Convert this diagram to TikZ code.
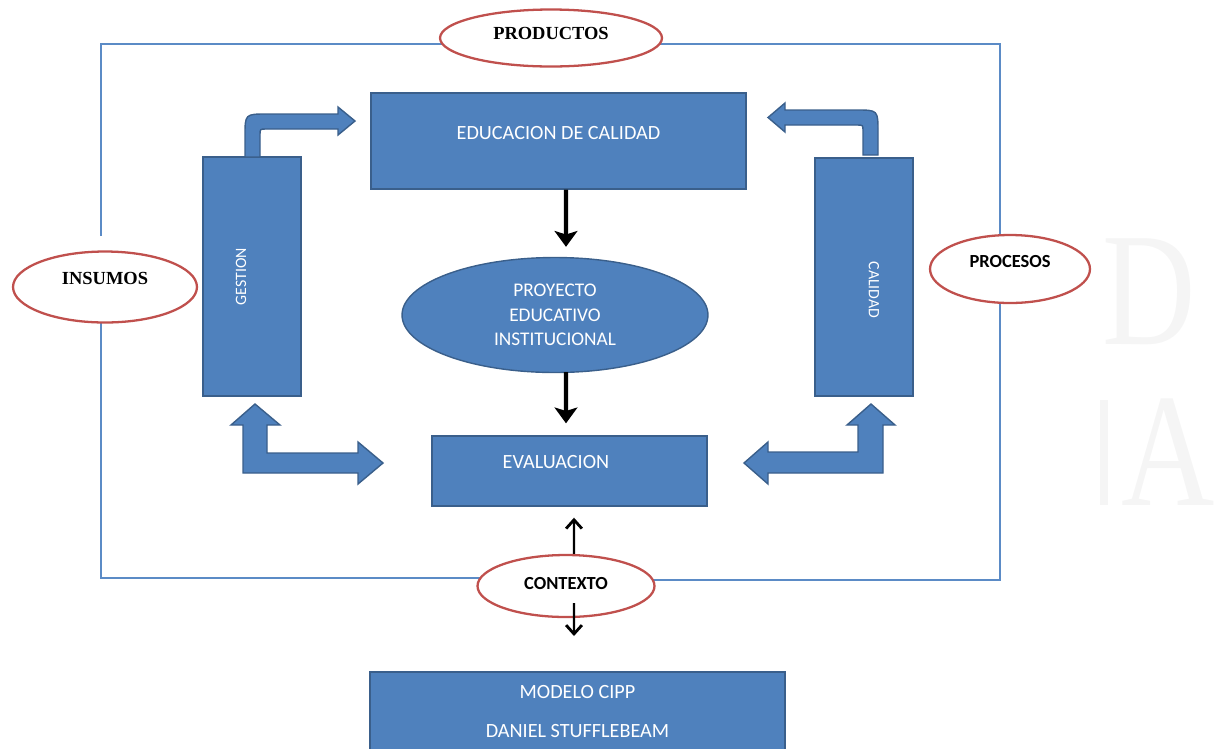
\documentclass[tikz,border=0pt]{standalone}
\usepackage{fontspec}
\setmainfont{Carlito}
\newfontfamily\romana{Liberation Serif}
\usetikzlibrary{positioning, shapes.geometric, arrows.meta}

\definecolor{azulcaja}{HTML}{4F81BD}
\definecolor{bordecaja}{HTML}{3A5F8B}
\definecolor{rojoovalo}{HTML}{C0504D}
\definecolor{marco}{HTML}{5B8BC6}
\definecolor{marcaagua}{HTML}{F5F5F5}

\tikzset{
  caja/.style={rectangle, draw=bordecaja, fill=azulcaja, line width=0.8pt},
  elipsecaja/.style={ellipse, draw=bordecaja, fill=azulcaja, line width=0.8pt, inner sep=0pt},
  ovalo/.style={ellipse, draw=rojoovalo, fill=white, line width=1.3pt, inner sep=0pt},
  txtcaja/.style={text=white, font=\fontsize{11.5}{14}\selectfont, align=center},
  txtserif/.style={font=\romana\bfseries\fontsize{10.5}{12}\selectfont},
  txtsans/.style={font=\bfseries\fontsize{10.5}{12}\selectfont},
  marca/.style={text=marcaagua, font=\romana\fontsize{92}{92}\selectfont, xscale=0.8, inner sep=0pt},
  flechagruesa/.style={line width=2.3pt, -{Stealth[length=9pt, width=13pt, inset=2pt]}},
  flechafina/.style={line width=1.4pt, -{Straight Barb[length=5pt, width=9pt, line width=1.6pt]}},
  flechabloque/.style={fill=azulcaja, draw=bordecaja, line width=0.8pt},
}

\begin{document}
\begin{tikzpicture}[x=0.02cm, y=-0.02cm]
  \useasboundingbox (0,0) rectangle (1220,748);
  \clip (0,0) rectangle (1220,748);

  % Marca de agua
  \begin{scope}
    \clip (1100,0) rectangle (1220,748);
    \node[marca] (letraD) at (1149,291.5) {D};
    \node[marca] (letraA) at (1168,452.5) {A};
  \end{scope}
  \fill[marcaagua] (1100,400) rectangle (1108,505);

  % Marco
  \draw[marco, line width=0.7pt] (101,236) -- (101,44) -- (1000,44) -- (1000,580) -- (566,580);
  \draw[marco, line width=0.7pt] (566,578) -- (101,578) -- (101,323);

  % Ovalos
  \node[ovalo, minimum width=3.68cm, minimum height=1.42cm] (insumos) at (105,287) {};
  \node[txtserif] (insumostxt) at ([yshift=5pt]insumos.center) {INSUMOS};
  \node[ovalo, minimum width=4.44cm, minimum height=1.14cm] (productos) at (551,38) {};
  \node[txtserif] (productostxt) at ([yshift=2.8pt]productos.center) {PRODUCTOS};
  \node[ovalo, minimum width=3.2cm, minimum height=1.36cm] (procesos) at (1010,269) {};
  \node[txtsans] (procesostxt) at ([yshift=4pt]procesos.center) {PROCESOS};
  \node[ovalo, minimum width=3.54cm, minimum height=1.24cm] (contexto) at (566,586) {};
  \node[txtsans] (contextotxt) at ([yshift=1.7pt]contexto.center) {CONTEXTO};

  % Cajas
  \node[caja, minimum width=7.5cm, minimum height=1.92cm] (educacion) at (558.5,141) {};
  \node[txtcaja] (educaciontxt) at ([yshift=4.5pt]educacion.center) {EDUCACION DE CALIDAD};
  \node[caja, minimum width=1.96cm, minimum height=4.78cm] (gestion) at (252,276.5) {};
  \node[txtcaja, font=\fontsize{9}{11}\selectfont, rotate=90] (gestiontxt) at ([xshift=-6.2pt]gestion.center) {GESTION};
  \node[caja, minimum width=1.96cm, minimum height=4.76cm] (calidad) at (864,277) {};
  \node[txtcaja, font=\fontsize{9}{11}\selectfont, rotate=-90] (calidadtxt) at ([xshift=5.7pt, yshift=-7.4pt]calidad.center) {CALIDAD};
  \node[elipsecaja, minimum width=6.12cm, minimum height=2.3cm, txtcaja, font=\fontsize{11}{14}\selectfont] (pei) at (555,315) {PROYECTO\\EDUCATIVO\\INSTITUCIONAL};
  \node[caja, minimum width=5.5cm, minimum height=1.4cm] (evaluacion) at (569.5,471) {};
  \node[txtcaja] (evaluaciontxt) at ([xshift=-7.7pt, yshift=5pt]evaluacion.center) {EVALUACION};
  \node[caja, minimum width=8.3cm, minimum height=2.36cm] (cipp) at (577.5,731) {};
  \node[txtcaja, font=\fontsize{11.5}{22}\selectfont] (cipptxt) at ([yshift=11pt]cipp.center) {MODELO CIPP\\DANIEL STUFFLEBEAM};

  % Flechas de bloque
  \draw[flechabloque] (245,157) -- (245,136) .. controls (245,114) .. (267,114) -- (338,114) -- (338,107)
    -- (355,121) -- (338,135) -- (338,129) -- (266,129) .. controls (260,129) .. (260,135) -- (260,157) -- cycle;
  \draw[flechabloque] (878,155) -- (878,132) .. controls (878,110) .. (856,110) -- (785,110) -- (785,103)
    -- (768,117.5) -- (785,132) -- (785,125) -- (857,125) .. controls (863,125) .. (863,131) -- (863,155) -- cycle;
  \draw[flechabloque] (243,473) -- (243,425) -- (231,425) -- (255,404) -- (280,425) -- (267,425) -- (267,453)
    -- (358,453) -- (358,442) -- (383,463) -- (358,484) -- (358,473) -- cycle;
  \draw[flechabloque] (883,473) -- (883,425) -- (895,425) -- (871,404) -- (847,425) -- (858,425) -- (858,452)
    -- (768,452) -- (768,442) -- (744,463) -- (768,484) -- (768,473) -- cycle;

  % Flechas negras
  \draw[flechagruesa] ([xshift=0.15cm]educacion.south) -- ([xshift=0.22cm, yshift=0.2cm]pei.north);
  \draw[flechagruesa] ([xshift=0.22cm, yshift=0.02cm]pei.south) -- ([xshift=-0.07cm, yshift=0.24cm]evaluacion.north);
  \draw[flechafina] ([xshift=0.16cm]contexto.north) -- ([xshift=0.09cm, yshift=-0.22cm]evaluacion.south);
  \coordinate (bajada) at (574,636);
  \draw[flechafina] ([shift={(0.16cm,0.3cm)}]contexto.south) -- (bajada);
\end{tikzpicture}
\end{document}
